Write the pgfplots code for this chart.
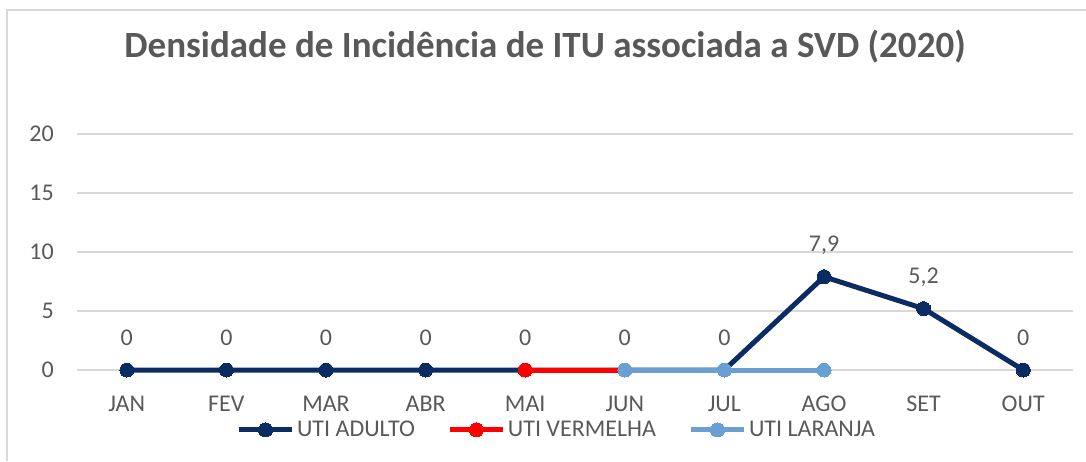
\documentclass[border=0pt]{standalone}
\usepackage{fontspec}
\setmainfont{Carlito}
\usepackage{pgfplots}
\pgfplotsset{compat=1.18}
\definecolor{navy}{HTML}{0B2C62}
\definecolor{lblue}{HTML}{6A9FD3}
\definecolor{gridc}{HTML}{D9D9D9}
\definecolor{txt}{HTML}{595959}
\begin{document}
\begin{tikzpicture}[x=1pt,y=1pt]
\useasboundingbox (0,0) rectangle (1086,461);
\draw[gridc, line width=1.5pt] (7,0) -- (7,451) -- (1090,451);
\node[txt, font=\fontsize{37}{40}\selectfont\bfseries] at (545,414) {Densidade de Incidência de ITU associada a SVD (2020)};
\begin{axis}[
  at={(77pt,91pt)}, anchor=south west,
  scale only axis, width=996pt, height=236pt,
  xmin=-0.5, xmax=9.5, ymin=0, ymax=20,
  ytick={0,5,10,15,20},
  xtick={0,...,9},
  xticklabels={JAN,FEV,MAR,ABR,MAI,JUN,JUL,AGO,SET,OUT},
  axis line style={draw=none},
  tick style={draw=none},
  ymajorgrids, grid style={gridc, line width=1.3pt},
  /pgf/number format/assume math mode=true,
  ticklabel style={font=\fontsize{24}{26}\selectfont, text=txt, inner sep=0pt},
  yticklabel style={anchor=east, xshift=-23pt},
  xticklabel style={anchor=north, yshift=-26pt},
  clip=false,
  legend columns=3,
  legend style={at={(0.482,-0.254)}, anchor=center, draw=none, fill=none,
    font=\fontsize{24}{26}\selectfont, text=txt,
    nodes={inner sep=2.5pt},
    /tikz/every even column/.append style={column sep=30pt}},
  legend image code/.code={\draw[mark repeat=2,mark phase=2,#1] plot coordinates {(0pt,0pt) (26.5pt,0pt) (53pt,0pt)};},
]
\addplot[navy, line width=5pt, mark=*, mark size=7pt, mark options={solid, fill=navy, draw=navy, line width=0pt},
  nodes near coords={\pgfmathprintnumber[use comma,fixed,precision=1]{\pgfplotspointmeta}},
  every node near coord/.append style={font=\fontsize{24}{26}\selectfont, text=txt, anchor=base, inner sep=0pt, yshift=25pt}]
  coordinates {(0,0) (1,0) (2,0) (3,0) (4,0) (5,0) (6,0) (7,7.9) (8,5.2) (9,0)};
\addlegendentry{UTI ADULTO}
\addplot[red, line width=5pt, mark=*, mark size=7pt, mark options={solid, fill=red, draw=red, line width=0pt}]
  coordinates {(4,0) (5,0)};
\addlegendentry{UTI VERMELHA}
\addplot[lblue, line width=5pt, mark=*, mark size=7pt, mark options={solid, fill=lblue, draw=lblue, line width=0pt}]
  coordinates {(5,0) (6,0) (7,0)};
\addlegendentry{UTI LARANJA}
\end{axis}
\end{tikzpicture}
\end{document}
